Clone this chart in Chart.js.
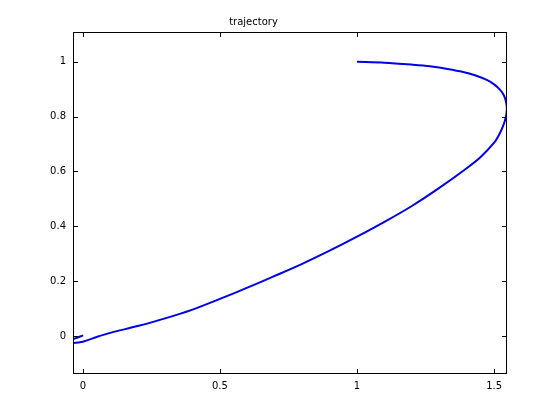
<!DOCTYPE html>
<html>
<head>
<meta charset="utf-8">
<script src="https://cdn.jsdelivr.net/npm/chart.js@4/dist/chart.umd.min.js"></script>
<style>
  html, body { margin: 0; padding: 0; background: #fff; }
  #wrap { width: 560px; height: 420px; }
</style>
</head>
<body>
<div id="wrap"><canvas id="traj"></canvas></div>
<script>
// trajectory points, in drawing order
const xs = [1.0, 1.1, 1.2, 1.266, 1.33, 1.387, 1.43, 1.473, 1.5, 1.522, 1.535, 1.542, 1.546, 1.546, 1.543,
  1.535, 1.52, 1.5, 1.45, 1.4, 1.3, 1.2, 1.1, 1.0, 0.9, 0.8,
  0.7, 0.6, 0.5, 0.4, 0.3, 0.2, 0.1, 0.05, 0.0, -0.036, -0.05, -0.045, -0.033, 0.001];
const ys = [1.0, 0.997, 0.99, 0.984, 0.974, 0.963, 0.951, 0.934, 0.918, 0.898, 0.879, 0.86, 0.84, 0.82, 0.8,
  0.772, 0.738, 0.705, 0.652, 0.612, 0.54, 0.474, 0.416, 0.362, 0.311, 0.263,
  0.219, 0.176, 0.135, 0.096, 0.064, 0.036, 0.011, -0.004, -0.021, -0.026, -0.024, -0.018, -0.011, 0.002];

const xTicks = [0, 0.5, 1, 1.5];
const xTickLabels = ["0", "0.5", "1", "1.5"];
const yTicks = [0, 0.2, 0.4, 0.6, 0.8, 1];
const yTickLabels = ["0", "0.2", "0.4", "0.6", "0.8", "1"];

const points = xs.map((x, i) => ({ x: x, y: ys[i] }));
const font = { family: "DejaVu Sans", size: 10 };

// matlab style box with inward tick marks
const boxPlugin = {
  id: "box",
  afterDraw(c) {
    const a = c.chartArea, ctx = c.ctx;
    const sx = c.scales.x, sy = c.scales.y;
    ctx.save();
    ctx.strokeStyle = "#000";
    ctx.lineWidth = 1;
    ctx.strokeRect(Math.round(a.left) + 0.5, Math.round(a.top) + 0.5,
      Math.round(a.right - a.left) - 1, Math.round(a.bottom - a.top) - 1);
    ctx.beginPath();
    xTicks.forEach(v => {
      const px = Math.round(sx.getPixelForValue(v)) + 0.5;
      ctx.moveTo(px, a.bottom); ctx.lineTo(px, a.bottom - 5);
      ctx.moveTo(px, a.top); ctx.lineTo(px, a.top + 5);
    });
    yTicks.forEach(v => {
      const py = Math.round(sy.getPixelForValue(v)) + 0.5;
      ctx.moveTo(a.left, py); ctx.lineTo(a.left + 5, py);
      ctx.moveTo(a.right, py); ctx.lineTo(a.right - 5, py);
    });
    ctx.stroke();
    ctx.restore();
  }
};

new Chart(document.getElementById("traj"), {
  type: "scatter",
  data: {
    datasets: [{
      data: points,
      showLine: true,
      borderColor: "#0000e6",
      borderWidth: 2,
      pointRadius: 0,
      tension: 0.3,
      clip: 0
    }]
  },
  options: {
    responsive: true,
    maintainAspectRatio: false,
    animation: false,
    layout: { padding: { left: 0, right: 53, top: 0, bottom: 0 } },
    plugins: {
      legend: { display: false },
      tooltip: { enabled: false },
      title: {
        display: true,
        text: "trajectory",
        color: "#000",
        font: { family: "DejaVu Sans", size: 10, weight: "normal" },
        padding: { top: 16, bottom: 4 }
      }
    },
    scales: {
      x: {
        type: "linear",
        min: -0.036,
        max: 1.547,
        afterBuildTicks: s => { s.ticks = xTicks.map(v => ({ value: v })); },
        afterFit: s => { s.height = 46; },
        grid: { display: false, drawTicks: false },
        border: { display: false },
        ticks: {
          color: "#000", font: font, padding: 6, maxRotation: 0,
          callback: (v, i) => xTickLabels[i]
        }
      },
      y: {
        type: "linear",
        min: -0.139,
        max: 1.109,
        afterBuildTicks: s => { s.ticks = yTicks.map(v => ({ value: v })); },
        afterFit: s => { s.width = 73; },
        grid: { display: false, drawTicks: false },
        border: { display: false },
        ticks: {
          color: "#000", font: font, padding: 7,
          callback: (v, i) => yTickLabels[i]
        }
      }
    }
  },
  plugins: [boxPlugin]
});
</script>
</body>
</html>
